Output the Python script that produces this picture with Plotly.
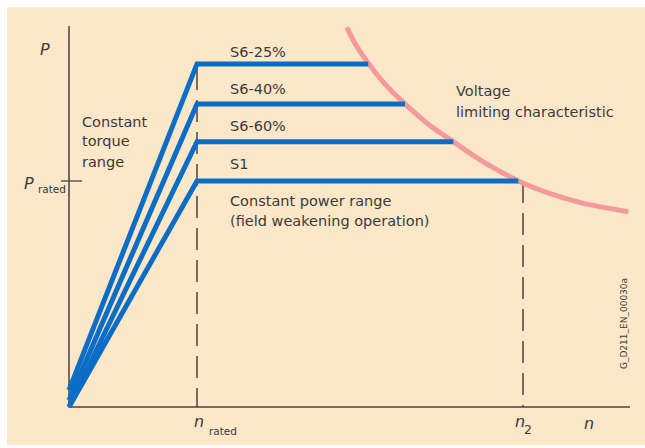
import plotly.graph_objects as go

# ---- data (n relative to n_rated, P relative to P_rated) ----
series_names = ["S6-25%", "S6-40%", "S6-60%", "S1"]
series_p_start = [0.075, 0.03, 0.0, 0.0]
series_p_level = [1.518, 1.341, 1.174, 1.0]
series_n_end = [2.338, 2.625, 3.002, 3.51]
n_rated = 1.0
n_2 = 3.547

limit_n = [2.170, 2.242, 2.338, 2.469, 2.625, 2.805, 3.002, 3.25, 3.51, 3.742, 4.005, 4.37]
limit_p = [1.680, 1.602, 1.521, 1.429, 1.341, 1.252, 1.174, 1.080, 1.0, 0.947, 0.903, 0.864]

axis_n_max = 4.383
axis_p_max = 1.686

BLUE = "#0b6dc5"
PINK = "#f49a9d"
AXIS = "#4a4242"
TEXT = "#3a3a3a"
BG = "#fde7c9"
FONT = "DejaVu Sans"

fig = go.Figure()

# cream panel (white frame on top/left like the reference)
fig.add_shape(type="rect", xref="paper", yref="paper", x0=0.0109, x1=1.0, y0=0.0067, y1=0.9844,
              fillcolor=BG, line=dict(width=0), layer="below")

# axes
fig.add_trace(go.Scatter(x=[0, 0, axis_n_max], y=[axis_p_max, 0, 0], mode="lines",
                         line=dict(color=AXIS, width=1.5), hoverinfo="skip"))
# P_rated tick
fig.add_trace(go.Scatter(x=[-0.0625, 0.102], y=[1.0, 1.0], mode="lines",
                         line=dict(color=AXIS, width=1.3), hoverinfo="skip"))

# dashed verticals
fig.add_trace(go.Scatter(x=[n_rated, n_rated], y=[series_p_level[0] - 0.018, 0], mode="lines",
                         line=dict(color=AXIS, width=1.5, dash="22px,10px"), hoverinfo="skip"))
fig.add_trace(go.Scatter(x=[n_2, n_2], y=[series_p_level[-1], 0], mode="lines",
                         line=dict(color=AXIS, width=1.5, dash="22px,10px"), hoverinfo="skip"))

# voltage limiting characteristic
fig.add_trace(go.Scatter(x=limit_n, y=limit_p, mode="lines", line_shape="spline",
                         line=dict(color=PINK, width=5), hoverinfo="skip"))

# duty-cycle curves
for name, p0, pl, ne in zip(series_names, series_p_start, series_p_level, series_n_end):
    fig.add_trace(go.Scatter(x=[0, n_rated, ne], y=[p0, pl, pl], mode="lines", name=name,
                             line=dict(color=BLUE, width=5), hoverinfo="skip"))


def txt(x, y, s, size=14.5, xanchor="left", angle=0):
    fig.add_annotation(x=x, y=y, xref="x", yref="y", text=s, showarrow=False,
                       xanchor=xanchor, yanchor="middle", textangle=angle,
                       font=dict(family=FONT, size=size, color=TEXT))


# series labels
label_p = [1.569, 1.409, 1.243, 1.075]
for name, lp in zip(series_names, label_p):
    txt(1.242, lp, name)

txt(1.242, 0.912, "Constant power range")
txt(1.242, 0.823, "(field weakening operation)")
txt(0.086, 1.263, "Constant")
txt(0.086, 1.175, "torque")
txt(0.086, 1.086, "range")
txt(3.008, 1.400, "Voltage")
txt(3.008, 1.306, "limiting characteristic")

# axis labels
txt(-0.188, 1.580, "<i>P</i>", size=16, xanchor="center")
txt(-0.3125, 0.990, "<i>P</i>", size=16, xanchor="center")
txt(-0.2617, 0.964, "rated", size=10.5)
txt(1.012, -0.066, "<i>n</i>", size=16, xanchor="center")
txt(1.078, -0.108, "rated", size=10.5)
txt(3.520, -0.066, "<i>n</i>", size=16, xanchor="center")
txt(3.582, -0.100, "2", size=12.5, xanchor="center")
txt(4.059, -0.075, "<i>n</i>", size=16, xanchor="center")
txt(4.336, 0.367, "G_D211_EN_00030a", size=9, xanchor="center", angle=-90)

fig.update_layout(
    width=645, height=448,
    margin=dict(l=0, r=0, t=0, b=0),
    paper_bgcolor="white", plot_bgcolor="rgba(0,0,0,0)",
    showlegend=False,
    xaxis=dict(range=[-0.5391, 4.5], visible=False, fixedrange=True),
    yaxis=dict(range=[-0.1814, 1.8009], visible=False, fixedrange=True),
)

fig.write_html(
    "out.html",
    config={"displayModeBar": False},
    post_script="document.documentElement.style.overflow='hidden';"
                "document.body.style.margin='0';document.body.style.overflow='hidden';",
)
